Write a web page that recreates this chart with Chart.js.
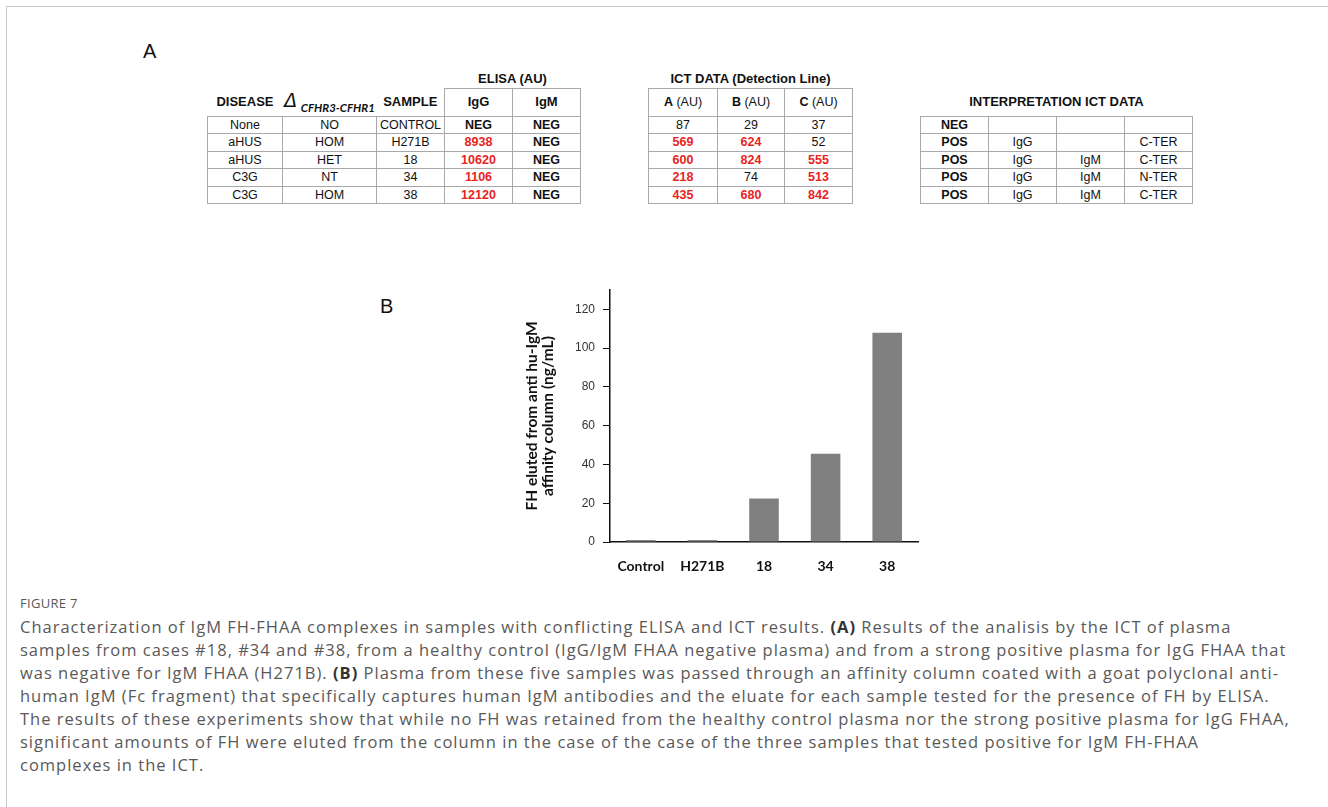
<!DOCTYPE html>
<html>
<head>
<meta charset="utf-8">
<script src="https://cdn.jsdelivr.net/npm/chart.js@4.4.1/dist/chart.umd.min.js"></script>
<style>
body { margin: 0; width: 1328px; height: 807px; background: #fff; position: relative; overflow: hidden; font-family: "Liberation Sans", Arial, sans-serif; }
#frame { position: absolute; left: 6px; top: 6px; width: 1340px; height: 820px; border-top: 1px solid #c8c8c8; border-left: 1px solid #c8c8c8; }
.panel { position: absolute; font-size: 20px; color: #111; }
table { position: absolute; border-collapse: collapse; table-layout: fixed; font-size: 12.5px; color: #111; }
td { padding: 0; text-align: center; white-space: nowrap; line-height: 14px; }
tr.t0 { height: 18px; }
tr.t1 { height: 28px; }
tr.r { height: 17.5px; }
td.b { border: 1px solid #a8a8a8; }
td.hd { font-weight: bold; font-size: 13px; }
.red { color: #e8231e; font-weight: bold; }
.bold { font-weight: bold; }
.delta { font-style: italic; font-size: 19px; font-family: "DejaVu Sans", sans-serif; font-weight: normal; }
.sub { font-style: italic; font-weight: bold; font-size: 11.5px; font-family: Lato, sans-serif; position: relative; top: 5px; }
#chartBox { position: absolute; left: 500px; top: 285px; width: 440px; height: 300px; }
#cap { position: absolute; left: 20px; top: 594px; color: #595959; font-family: "Open Sans", sans-serif; }
#cap .fig { font-size: 13px; line-height: 18px; letter-spacing: 0.3px; }
#cap .txt { font-size: 16.5px; line-height: 23px; white-space: nowrap; margin-top: 3px; letter-spacing: 1px; }
#cap b { color: #333; }
</style>
</head>
<body>
<div id="frame"></div>
<div class="panel" style="left:143px;top:40px;">A</div>
<div class="panel" style="left:380px;top:295px;">B</div>

<table id="elisa" style="left:207px;top:70px;">
  <colgroup><col style="width:75px"><col style="width:94px"><col style="width:68px"><col style="width:68px"><col style="width:68px"></colgroup>
</table>
<table id="ict" style="left:648px;top:70px;">
  <colgroup><col style="width:69px"><col style="width:67px"><col style="width:68px"></colgroup>
</table>
<table id="interp" style="left:920px;top:70px;">
  <colgroup><col style="width:68px"><col style="width:68px"><col style="width:68px"><col style="width:68px"></colgroup>
</table>

<div id="chartBox"><canvas id="barChart"></canvas></div>

<div id="cap">
  <div class="fig">FIGURE 7</div>
  <div class="txt">Characterization of IgM FH-FHAA complexes in samples with conflicting ELISA and ICT results. <b>(A)</b> Results of the analisis by the ICT of plasma<br>samples from cases #18, #34 and #38, from a healthy control (IgG/IgM FHAA negative plasma) and from a strong positive plasma for IgG FHAA that<br>was negative for IgM FHAA (H271B). <b>(B)</b> Plasma from these five samples was passed through an affinity column coated with a goat polyclonal anti-<br>human IgM (Fc fragment) that specifically captures human IgM antibodies and the eluate for each sample tested for the presence of FH by ELISA.<br>The results of these experiments show that while no FH was retained from the healthy control plasma nor the strong positive plasma for IgG FHAA,<br>significant amounts of FH were eluted from the column in the case of the case of the three samples that tested positive for IgM FH-FHAA<br>complexes in the ICT.</div>
</div>

<script>
// panel A data
var diseases = ['None', 'aHUS', 'aHUS', 'C3G', 'C3G'];
var deletion = ['NO', 'HOM', 'HET', 'NT', 'HOM'];
var samples = ['CONTROL', 'H271B', '18', '34', '38'];
var elisaIgG = ['NEG', '8938', '10620', '1106', '12120'];
var elisaIgM = ['NEG', 'NEG', 'NEG', 'NEG', 'NEG'];
var ictA = [87, 569, 600, 218, 435];
var ictB = [29, 624, 824, 74, 680];
var ictC = [37, 52, 555, 513, 842];
var ictCutoff = 100;
var interpResult = ['NEG', 'POS', 'POS', 'POS', 'POS'];
var interpIgG = ['', 'IgG', 'IgG', 'IgG', 'IgG'];
var interpIgM = ['', '', 'IgM', 'IgM', 'IgM'];
var interpTerm = ['', 'C-TER', 'C-TER', 'N-TER', 'C-TER'];

// panel B data
var categories = ['Control', 'H271B', '18', '34', '38'];
var fhEluted = [1, 1, 22.5, 45.5, 108];
var yTicks = [0, 20, 40, 60, 80, 100, 120];

function cell(html, cls, span) {
    return '<td' + (cls ? ' class="' + cls + '"' : '') + (span ? ' colspan="' + span + '"' : '') + '>' + html + '</td>';
}

// ELISA table
var rows = '<tr class="t0">' + cell('') + cell('') + cell('') + cell('ELISA (AU)', 'hd', 2) + '</tr>';
rows += '<tr class="t1">' + cell('DISEASE', 'hd') +
    cell('<span class="delta">&Delta;</span> <span class="sub">CFHR3-CFHR1</span>', 'hd') +
    cell('SAMPLE', 'hd') + cell('IgG', 'b hd') + cell('IgM', 'b hd') + '</tr>';
for (var i = 0; i < samples.length; i++) {
    rows += '<tr class="r">' + cell(diseases[i], 'b') + cell(deletion[i], 'b') + cell(samples[i], 'b') +
        cell(elisaIgG[i], 'b ' + (elisaIgG[i] === 'NEG' ? 'bold' : 'red')) +
        cell(elisaIgM[i], 'b bold') + '</tr>';
}
document.getElementById('elisa').insertAdjacentHTML('beforeend', rows);

// ICT table
rows = '<tr class="t0">' + cell('ICT DATA (Detection Line)', 'hd', 3) + '</tr>';
rows += '<tr class="t1">' + cell('<b>A</b> (AU)', 'b') + cell('<b>B</b> (AU)', 'b') + cell('<b>C</b> (AU)', 'b') + '</tr>';
for (var i = 0; i < samples.length; i++) {
    rows += '<tr class="r">';
    [ictA[i], ictB[i], ictC[i]].forEach(function (v) {
        rows += cell(v, v > ictCutoff ? 'b red' : 'b');
    });
    rows += '</tr>';
}
document.getElementById('ict').insertAdjacentHTML('beforeend', rows);

// interpretation table
rows = '<tr class="t0">' + cell('', '', 4) + '</tr>';
rows += '<tr class="t1">' + cell('INTERPRETATION ICT DATA', 'hd', 4) + '</tr>';
for (var i = 0; i < samples.length; i++) {
    rows += '<tr class="r">' + cell(interpResult[i], 'b bold') + cell(interpIgG[i], 'b') +
        cell(interpIgM[i], 'b') + cell(interpTerm[i], 'b') + '</tr>';
}
document.getElementById('interp').insertAdjacentHTML('beforeend', rows);

// chartjs bar chart
var ctx = document.getElementById('barChart').getContext('2d');
var myChart = new Chart(ctx, {
    type: 'bar',
    data: {
        labels: categories,
        datasets: [{
            label: 'FH eluted',
            data: fhEluted,
            backgroundColor: '#808080',
            borderWidth: 0,
            categoryPercentage: 1,
            barPercentage: 0.48
        }]
    },
    options: {
        responsive: true,
        maintainAspectRatio: false,
        animation: false,
        layout: { padding: { top: 5, right: 22, bottom: 0, left: 0 } },
        plugins: { legend: { display: false }, tooltip: { enabled: false } },
        scales: {
            x: {
                grid: { display: false, drawTicks: false },
                border: { display: true, color: '#111', width: 1.5 },
                ticks: {
                    color: '#111',
                    padding: 16,
                    font: { family: 'Lato', weight: 'bold', size: 14 }
                },
                afterFit: function (s) { s.height = 43; s.paddingLeft = 0; s.paddingRight = 0; }
            },
            y: {
                min: 0,
                max: 130,
                afterBuildTicks: function (axis) {
                    axis.ticks = yTicks.map(function (v) { return { value: v }; });
                },
                grid: { drawOnChartArea: false, drawTicks: true, tickLength: 7, color: '#111' },
                border: { display: true, color: '#111', width: 1.5 },
                ticks: {
                    color: '#333',
                    padding: 8,
                    font: { family: 'Liberation Sans', size: 12 }
                },
                title: {
                    display: true,
                    text: ['FH eluted from anti hu-IgM', 'affinity column (ng/mL)'],
                    color: '#111',
                    padding: { top: 24, bottom: 0 },
                    font: { family: 'Lato', weight: 'bold', size: 15.5, lineHeight: 1.05 }
                },
                afterFit: function (s) { s.width = 110; s.paddingTop = 0; s.paddingBottom = 0; }
            }
        }
    }
});
</script>
</body>
</html>
